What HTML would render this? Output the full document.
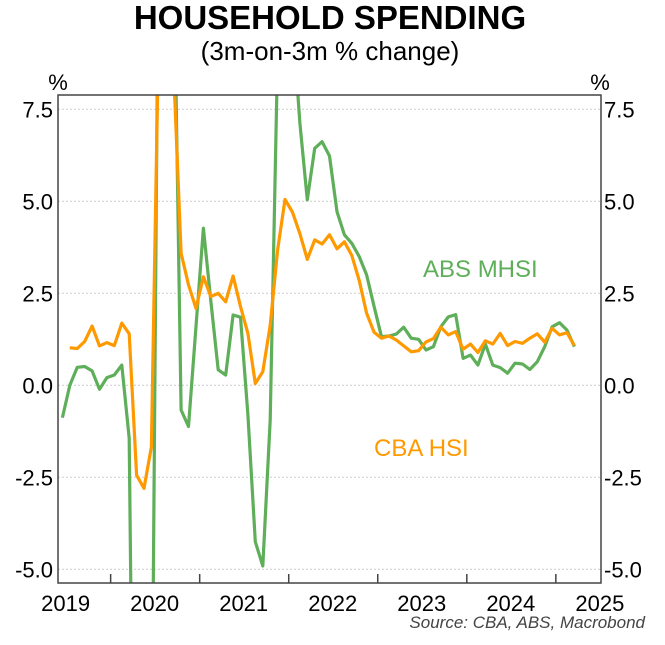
<!DOCTYPE html>
<html><head><meta charset="utf-8"><style>
html,body{margin:0;padding:0;background:#fff;overflow:hidden;width:665px;height:645px;}
svg{display:block;font-family:"Liberation Sans",Arial,sans-serif;}
</style></head><body>
<svg id="chart" width="665" height="645" viewBox="0 0 665 645">
<text x="330" y="29" text-anchor="middle" font-size="33" font-weight="bold">HOUSEHOLD SPENDING</text>
<text x="330" y="60" text-anchor="middle" font-size="26">(3m-on-3m % change)</text>
<text x="58" y="90" text-anchor="middle" font-size="22">%</text>
<text x="600" y="90" text-anchor="middle" font-size="22">%</text>
<g id="grid"></g>
<defs><clipPath id="clip"><rect x="58" y="95" width="543" height="488"/></clipPath></defs>
<g id="series" clip-path="url(#clip)"></g>
<rect x="58" y="95" width="543" height="488" fill="none" stroke="#444" stroke-width="1.5"/>
<g id="axes"></g>
<text x="423" y="277" font-size="24" fill="#5fae5a">ABS MHSI</text>
<text x="374" y="456" font-size="24" fill="#ff9900">CBA HSI</text>
<text x="645" y="628" text-anchor="end" font-size="17" font-style="italic" fill="#444">Source: CBA, ABS, Macrobond</text>
</svg>
<script>
// month index from Jan 2019
const absStart = 5;
const absValues = [-0.88,0.0,0.49,0.51,0.39,-0.11,0.21,0.28,0.55,-1.44,-20,-20,-12,14,14,12,-0.67,-1.12,1.6,4.27,2.3,0.42,0.28,1.91,1.85,-0.8,-4.25,-4.91,-0.94,9,10,10,7.12,5.04,6.44,6.62,6.23,4.72,4.09,3.86,3.5,3.0,2.14,1.32,1.34,1.39,1.58,1.28,1.25,0.96,1.05,1.59,1.86,1.92,0.73,0.82,0.55,1.12,0.55,0.48,0.33,0.6,0.58,0.43,0.64,1.05,1.59,1.7,1.5,1.05];
const cbaStart = 6;
const cbaValues = [1.02,1.0,1.19,1.61,1.07,1.16,1.08,1.69,1.4,-2.44,-2.8,-1.67,10,12,8.5,3.59,2.73,2.09,2.95,2.41,2.5,2.27,2.97,2.14,1.41,0.05,0.37,1.63,3.67,5.05,4.71,4.12,3.42,3.95,3.84,4.09,3.71,3.9,3.53,2.85,1.96,1.44,1.28,1.34,1.23,1.07,0.91,0.94,1.18,1.27,1.58,1.37,1.46,0.98,1.12,0.89,1.21,1.12,1.41,1.08,1.19,1.14,1.28,1.4,1.17,1.55,1.37,1.43,1.08];
const yTicks = [7.5,5.0,2.5,0.0,-2.5,-5.0];
const yTickLabels = ["7.5","5.0","2.5","0.0","-2.5","-5.0"];
const xYears = [2019,2020,2021,2022,2023,2024,2025];

const NS="http://www.w3.org/2000/svg";
function xs(m){return 21.6+7.42*m;}
function ys(v){return 385.3-36.8*v;}
function mk(tag,attrs,parent){const e=document.createElementNS(NS,tag);for(const k in attrs)e.setAttribute(k,attrs[k]);parent.appendChild(e);return e;}
const grid=document.getElementById('grid'),axes=document.getElementById('axes'),series=document.getElementById('series');
yTicks.forEach((t,i)=>{
  const y=ys(t);
  const g=mk('line',{x1:58,x2:601,y1:y,y2:y,stroke:'#ccc','stroke-width':1,'stroke-dasharray':'2,2'},grid);
  
  
  const l=mk('text',{x:53,y:y+8,'text-anchor':'end','font-size':22},axes);
  l.textContent=yTickLabels[i];
  
  
  const r=mk('text',{x:604,y:y+8,'text-anchor':'start','font-size':22},axes);
  r.textContent=yTickLabels[i];
  
  
});
xYears.forEach(yr=>{
  const m=(yr-2019)*12;
  const x=xs(m);
  if(yr>2019){
    const t=mk('line',{x1:x,x2:x,y1:583,y2:574,stroke:'#444','stroke-width':1.5},axes);
    
    
  }
  const l=mk('text',{x:x+44,y:611,'text-anchor':'middle','font-size':22},axes);
  l.textContent=yr;
  
  
});
function line(vals,start,color,name){
  const pts=vals.map((v,i)=>xs(start+i+0.5).toFixed(1)+','+ys(v).toFixed(1)).join(' ');
  const p=mk('polyline',{points:pts,fill:'none',stroke:color,'stroke-width':3.2,'stroke-linejoin':'round'},series);
  
  
}
line(absValues,absStart,'#5fae5a','abs-mhsi-line');
line(cbaValues,cbaStart,'#ff9900','cba-hsi-line');
</script>
</body></html>
